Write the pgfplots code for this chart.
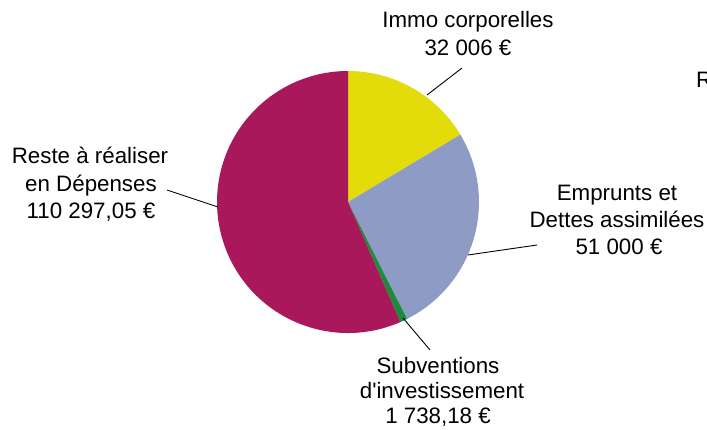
\documentclass[border=0pt]{standalone}
\usepackage{pgfplots}
\pgfplotsset{compat=1.18}
\usepackage{fontspec}
\setmainfont{Liberation Sans}[Ligatures=TeXOff]
\definecolor{cImmo}{HTML}{E3DC0A}
\definecolor{cEmp}{HTML}{8E9BC4}
\definecolor{cSub}{HTML}{1E8A3C}
\definecolor{cRes}{HTML}{A9185A}
% data (euros)
\def\vImmo{32006}
\def\vEmp{51000}
\def\vSub{1738.18}
\def\vRes{110297.05}
\edef\vTot{\fpeval{\vImmo+\vEmp+\vSub+\vRes}}
\edef\aA{90}
\edef\aB{\fpeval{\aA-360*\vImmo/\vTot}}
\edef\aC{\fpeval{\aB-360*\vEmp/\vTot}}
\edef\aD{\fpeval{\aC-360*\vSub/\vTot}}
\edef\aE{\fpeval{\aD-360*\vRes/\vTot}}
\def\R{131bp}
\begin{document}
\begin{tikzpicture}
\begin{axis}[
  width=707bp, height=430bp, scale only axis,
  xmin=0, xmax=707, ymin=0, ymax=430,
  hide axis, clip=false,
]
\coordinate (C) at (axis cs:348,228);
\fill[cImmo] (C) -- ++(\aA:\R) arc[start angle=\aA, end angle=\aB, radius=\R] -- cycle;
\fill[cEmp]  (C) -- ++(\aB:\R) arc[start angle=\aB, end angle=\aC, radius=\R] -- cycle;
\fill[cSub]  (C) -- ++(\aC:\R) arc[start angle=\aC, end angle=\aD, radius=\R] -- cycle;
\fill[cRes]  (C) -- ++(\aD:\R) arc[start angle=\aD, end angle=\aE, radius=\R] -- cycle;
% leader lines
\draw[black, line width=0.9bp] (axis cs:427,335) -- (axis cs:462,362);
\draw[black, line width=0.9bp] (axis cs:468,175) -- (axis cs:537,185);
\draw[black, line width=0.9bp] (axis cs:403,112) -- (axis cs:430,80);
\draw[black, line width=0.9bp] (axis cs:167,240) -- (axis cs:218,223);
% labels
\tikzset{lab/.style={anchor=base, inner sep=0pt, font=\fontsize{22.4}{27}\selectfont}}
\node[lab] at (axis cs:468,402) {Immo corporelles};
\node[lab] at (axis cs:468,375) {32 006 €};
\node[lab] at (axis cs:90,267) {Reste à réaliser};
\node[lab] at (axis cs:91,239) {en Dépenses};
\node[lab] at (axis cs:91,212) {110 297,05 €};
\node[lab] at (axis cs:617,230) {Emprunts et};
\node[lab] at (axis cs:617,203) {Dettes assimilées};
\node[lab] at (axis cs:619,176) {51 000 €};
\node[lab] at (axis cs:438,57) {Subventions};
\node[lab] at (axis cs:442,32) {d'investissement};
\node[lab] at (axis cs:438,7) {1 738,18 €};
\node[lab, anchor=base west] at (axis cs:696,343) {R};
\end{axis}
\pgfresetboundingbox
\path[use as bounding box] (0,0) rectangle (707bp,430bp);
\end{tikzpicture}
\end{document}
